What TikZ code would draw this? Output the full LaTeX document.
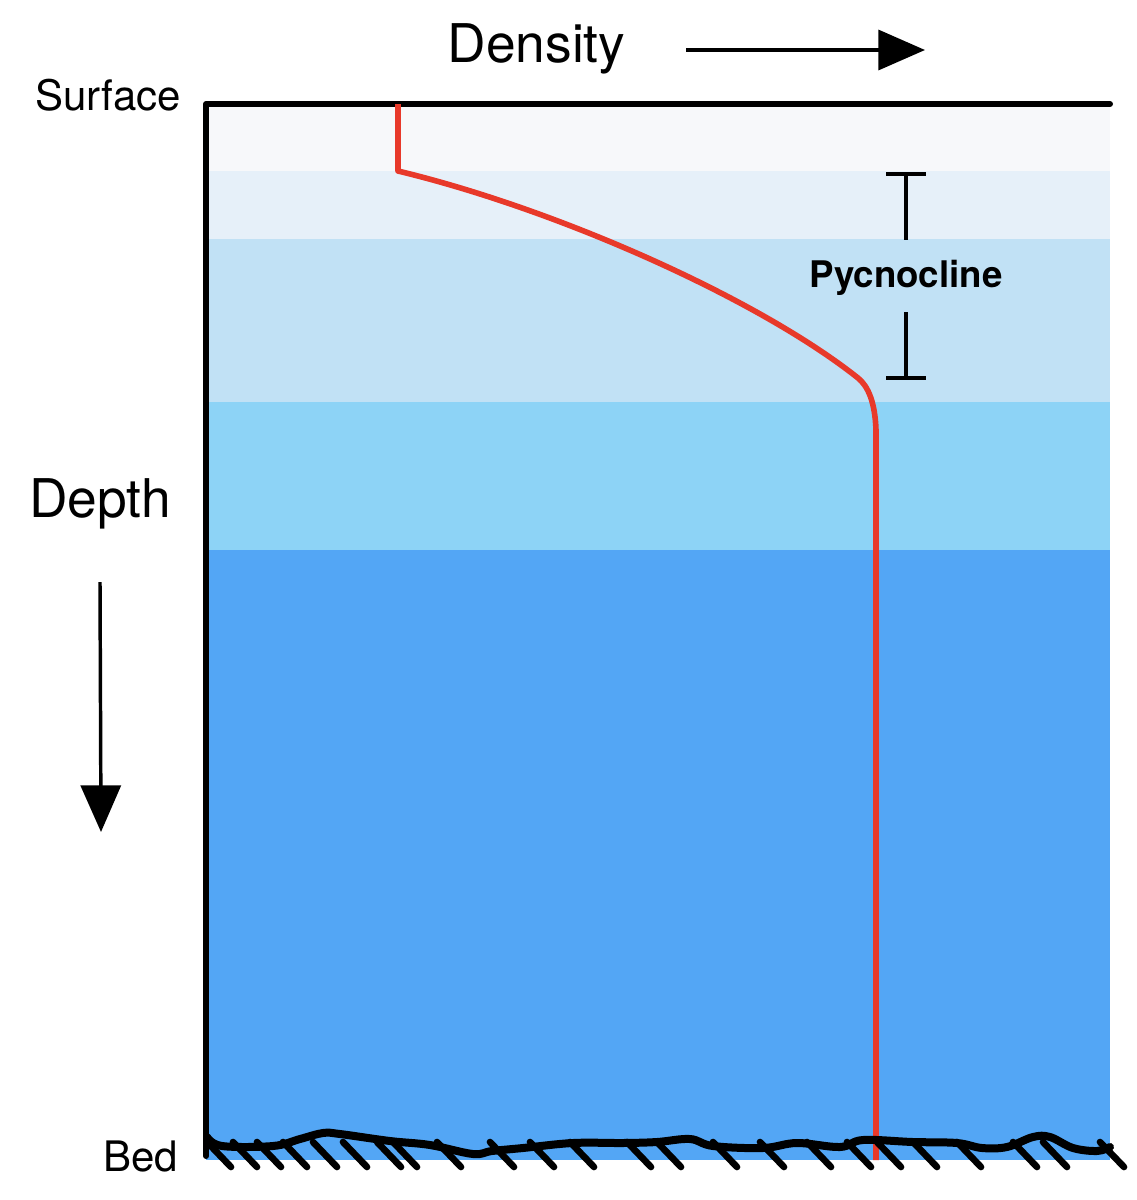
\documentclass[tikz,border=0pt]{standalone}
\usepackage{fontspec}
\setmainfont{TeX Gyre Heros}
\usepackage{xcolor}
\usetikzlibrary{arrows.meta}

\definecolor{layerA}{RGB}{247,248,250}
\definecolor{layerB}{RGB}{230,240,249}
\definecolor{layerC}{RGB}{193,225,245}
\definecolor{layerD}{RGB}{141,211,246}
\definecolor{layerE}{RGB}{83,166,245}
\definecolor{profred}{RGB}{232,57,42}

\begin{document}
\begin{tikzpicture}[x=0.75pt,y=0.75pt,yscale=-1,xscale=1,
  frame/.style={line width=4.5pt,line cap=round,line join=round},
  bigarrow/.style={line width=2.6pt,-{Triangle[length=35pt,width=30pt]}},
  bar/.style={line width=2.6pt},
  bedline/.style={line width=6pt,line cap=round,line join=round},
  hatch/.style={line width=5pt,line cap=round},
  label/.style={anchor=base,inner sep=0pt}]
\useasboundingbox (0,0) rectangle (1137,1200);

%Shape: Rectangle [layers]
\fill [layerA] (206,104) rectangle (1110,171);
\fill [layerB] (206,171) rectangle (1110,239);
\fill [layerC] (206,239) rectangle (1110,402);
\fill [layerD] (206,402) rectangle (1110,550);
\fill [layerE] (206,550) rectangle (1110,1160);

%Straight Lines [frame]
\coordinate (tl) at (206,104);
\coordinate (tr) at (1110,104);
\coordinate (bl) at (206,1156);
\draw [frame] (bl) -- (tl) -- (tr);

%Curve Lines [density profile]
\coordinate (p0) at (398,104);
\coordinate (p1) at (398,171);
\coordinate (p2) at (858,378);
\coordinate (p3) at (876,430);
\coordinate (p4) at (876,1160);
\draw [profred,line width=4.2pt,line join=round] (p0) -- (p1) .. controls (560,210) and (760,300) .. (p2) .. controls (868,386) and (875,402) .. (p3) -- (p4);

%Straight Lines [pycnocline bracket]
\coordinate (ba) at (906,174);
\coordinate (bb) at (906,240);
\coordinate (bc) at (906,312);
\coordinate (bd) at (906,378);
\draw [bar] (886,174) -- (926,174);
\draw [bar] (ba) -- (bb);
\draw [bar] (bc) -- (bd);
\draw [bar] (886,378) -- (926,378);

%Curve Lines [bed]
\draw [bedline] plot [smooth,tension=0.6] coordinates {(207,1137) (222,1146) (273,1146) (300,1139) (323,1133) (340,1134) (390,1141) (430,1145) (473,1154) (492,1151) (523,1148) (573,1143) (623,1143) (657,1142) (690,1139) (713,1146) (763,1148) (797,1143) (840,1147) (863,1140) (913,1142) (957,1143) (982,1148) (1007,1147) (1033,1137) (1050,1137) (1073,1148) (1097,1151) (1110,1147)};
\foreach \hx in {207,233,257,283,313,343,377,393,437,490,530,570,627,657,713,760,807,847,877,913,957,1013,1043,1100}
  \draw [hatch] (\hx,1142) -- ++(24,25);

% Text Node
\node [label,font=\fontsize{31.5}{36}\selectfont] (surface) at (108,110) {Surface};
% Text Node
\node [label,font=\fontsize{31.5}{36}\selectfont] (bed) at (140.5,1171) {Bed};
% Text Node
\node [label,font=\fontsize{40}{46}\selectfont] (density) at (536.5,62) {Density};
% Text Node
\node [label,font=\fontsize{40}{46}\selectfont] (depth) at (100,517) {Depth};
% Text Node
\node [label,font=\bfseries\fontsize{27.5}{32}\selectfont] (pycno) at (906,287) {Pycnocline};

%Straight Lines [axis arrows]
\coordinate (da) at (686,50);
\coordinate (db) at (925,50);
\draw [bigarrow] (da) -- (db);
\coordinate (za) at (100,582);
\coordinate (zb) at (101,832);
\draw [bigarrow] (za) -- (zb);

\end{tikzpicture}
\end{document}
